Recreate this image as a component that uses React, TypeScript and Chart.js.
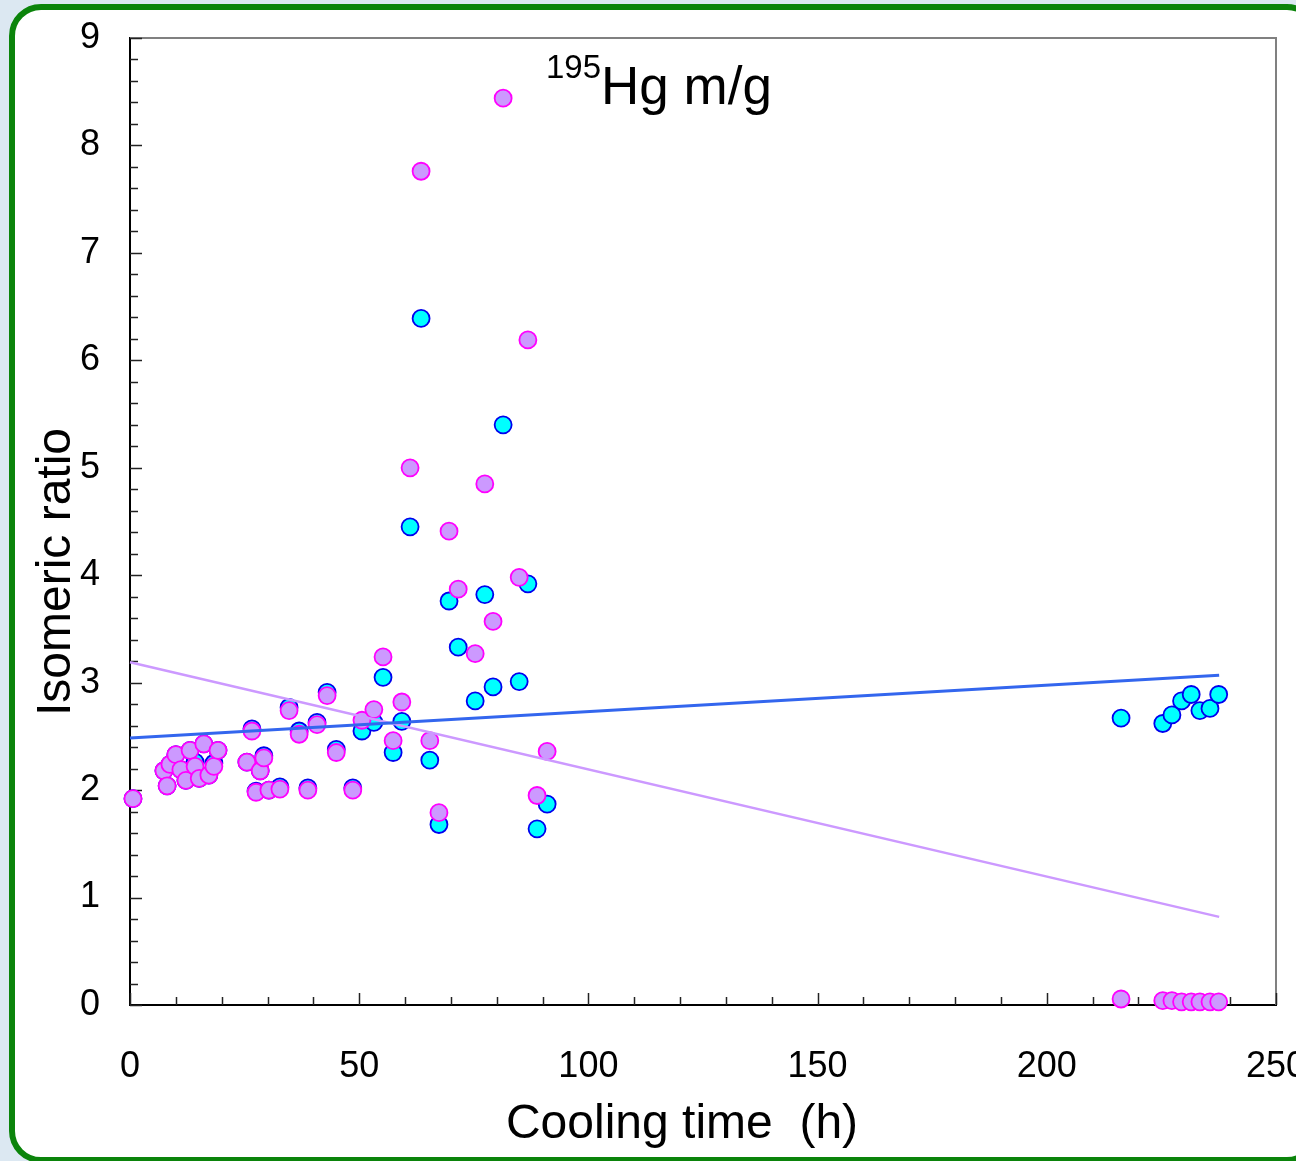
import React, { useEffect, useRef } from "react";
import { Chart, registerables } from "chart.js";

Chart.register(...registerables);

// Cooling time (h) shared by both series
const coolingTime = [
  0.65, 7.4, 8.1, 8.7, 10.0, 11.1, 12.2, 13.1, 14.2, 15.1, 16.1, 17.2, 18.3, 19.2,
  25.5, 26.6, 27.5, 28.4, 29.2, 30.3, 32.7, 34.7, 36.9, 38.8, 40.8, 43.0, 45.0, 48.6, 50.6, 53.2, 55.2, 57.4, 59.3,
  61.1, 63.5, 65.4, 67.4, 69.6, 71.6, 75.3, 77.4, 79.2, 81.4, 84.9, 86.8, 88.8, 91.0,
  216.2, 225.3, 227.3, 229.4, 231.5, 233.4, 235.6, 237.5,
];

// cyan series
const ratioCyan = [
  1.92, 2.18, 2.04, 2.24, 2.33, 2.19, 2.09, 2.37, 2.26, 2.11, 2.43, 2.14, 2.25, 2.37,
  2.26, 2.57, 1.99, 2.18, 2.32, 2.0, 2.03, 2.77, 2.55, 2.02, 2.63, 2.91, 2.38, 2.02, 2.55, 2.63, 3.05, 2.35, 2.64,
  4.45, 6.39, 2.28, 1.68, 3.76, 3.33, 2.83, 3.82, 2.96, 5.4, 3.01, 3.92, 1.64, 1.87,
  2.67, 2.62, 2.7, 2.83, 2.89, 2.74, 2.76, 2.89,
];

// violet series
const ratioViolet = [
  1.92, 2.18, 2.04, 2.24, 2.33, 2.19, 2.09, 2.37, 2.22, 2.11, 2.43, 2.14, 2.22, 2.37,
  2.26, 2.55, 1.98, 2.18, 2.3, 2.0, 2.01, 2.74, 2.52, 2.0, 2.61, 2.88, 2.35, 2.0, 2.65, 2.75, 3.24, 2.46, 2.82,
  5.0, 7.76, 2.46, 1.79, 4.41, 3.87, 3.27, 4.85, 3.57, 8.44, 3.98, 6.19, 1.95, 2.36,
  0.056, 0.04, 0.04, 0.03, 0.03, 0.03, 0.03, 0.03,
];

// linear trend lines
const trendX = [0, 237.6];
const trendCyan = [2.485, 3.07];
const trendViolet = [3.19, 0.82];

const X_MIN = 0, X_MAX = 250, X_STEP = 50, X_MINOR = 10;
const Y_MIN = 0, Y_MAX = 9, Y_STEP = 1, Y_MINOR = 0.2;

const FONT = 'Arial, "Liberation Sans", sans-serif';

const toPts = (xs: number[], ys: number[]) => xs.map((x, i) => ({ x, y: ys[i] }));

const decor = {
  id: "decor",
  beforeDatasetsDraw(chart: any) {
    const { ctx, chartArea: a, scales } = chart;
    ctx.save();
    ctx.strokeStyle = "#808080";
    ctx.lineWidth = 2;
    ctx.beginPath();
    ctx.moveTo(a.left, a.top);
    ctx.lineTo(a.right, a.top);
    ctx.lineTo(a.right, a.bottom);
    ctx.stroke();

    ctx.strokeStyle = "#222";
    ctx.lineWidth = 1.5;
    const ny = Math.round((Y_MAX - Y_MIN) / Y_MINOR);
    for (let i = 0; i <= ny; i++) {
      const v = Y_MIN + i * Y_MINOR;
      const major = i % Math.round(Y_STEP / Y_MINOR) === 0;
      const y = Math.round(scales.y.getPixelForValue(v)) + 0.5;
      ctx.beginPath();
      ctx.moveTo(a.left, y);
      ctx.lineTo(a.left + (major ? 12 : 8), y);
      ctx.stroke();
    }
    const nx = Math.round((X_MAX - X_MIN) / X_MINOR);
    for (let i = 0; i <= nx; i++) {
      const v = X_MIN + i * X_MINOR;
      const major = i % Math.round(X_STEP / X_MINOR) === 0;
      const x = Math.round(scales.x.getPixelForValue(v)) + 0.5;
      ctx.beginPath();
      ctx.moveTo(x, a.bottom);
      ctx.lineTo(x, a.bottom - (major ? 12 : 8));
      ctx.stroke();
    }
    ctx.restore();
  },
  afterDraw(chart: any) {
    const { ctx } = chart;
    ctx.save();
    ctx.fillStyle = "#000";
    // y axis title
    ctx.translate(70, 572);
    ctx.rotate(-Math.PI / 2);
    ctx.font = `48px ${FONT}`;
    ctx.textAlign = "center";
    ctx.textBaseline = "alphabetic";
    ctx.fillText("Isomeric ratio", 0, 0);
    ctx.setTransform(1, 0, 0, 1, 0, 0);
    // x axis title
    ctx.font = `48px ${FONT}`;
    ctx.textAlign = "center";
    ctx.fillText("Cooling time  (h)", 682, 1138);
    // plot label
    ctx.textAlign = "left";
    ctx.font = `33px ${FONT}`;
    ctx.fillText("195", 546, 78);
    const w = ctx.measureText("195").width;
    ctx.font = `53px ${FONT}`;
    ctx.fillText("Hg m/g", 546 + w, 104);
    ctx.restore();
  },
};

export default function App() {
  const ref = useRef<HTMLCanvasElement>(null);

  useEffect(() => {
    if (!ref.current) return;
    const chart = new Chart(ref.current, {
      type: "scatter",
      data: {
        datasets: [
          {
            label: "trend cyan",
            data: toPts(trendX, trendCyan),
            showLine: true,
            borderColor: "#3366ee",
            borderWidth: 3,
            pointRadius: 0,
            order: 0,
            clip: false,
          } as any,
          {
            label: "trend violet",
            data: toPts(trendX, trendViolet),
            showLine: true,
            borderColor: "#cc99ff",
            borderWidth: 2.5,
            pointRadius: 0,
            order: 0,
            clip: false,
          } as any,
          {
            label: "violet",
            data: toPts(coolingTime, ratioViolet),
            backgroundColor: "#cc99ff",
            borderColor: "#ff00ff",
            borderWidth: 1.8,
            pointRadius: 8.5,
            order: 1,
            clip: false,
          } as any,
          {
            label: "cyan",
            data: toPts(coolingTime, ratioCyan),
            backgroundColor: "#00ffff",
            borderColor: "#0000ee",
            borderWidth: 1.8,
            pointRadius: 8.5,
            order: 2,
            clip: false,
          } as any,
        ],
      },
      options: {
        animation: false,
        responsive: false,
        devicePixelRatio: 1,
        layout: { padding: { top: 38, right: 20, left: 0, bottom: 0 } },
        plugins: { legend: { display: false }, tooltip: { enabled: false } },
        scales: {
          x: {
            type: "linear",
            min: X_MIN,
            max: X_MAX,
            grid: { display: false, drawTicks: false },
            border: { display: true, color: "#000", width: 2 },
            ticks: {
              stepSize: X_STEP,
              autoSkip: false,
              maxRotation: 0,
              padding: 40,
              color: "#000",
              font: { family: FONT, size: 36 },
            },
            afterFit: (s: any) => {
              s.height = 156;
              s.paddingLeft = 0;
              s.paddingRight = 0;
            },
          },
          y: {
            type: "linear",
            min: Y_MIN,
            max: Y_MAX,
            grid: { display: false, drawTicks: false },
            border: { display: true, color: "#000", width: 2 },
            ticks: {
              stepSize: Y_STEP,
              autoSkip: false,
              padding: 30,
              color: "#000",
              font: { family: FONT, size: 36 },
            },
            afterFit: (s: any) => {
              s.width = 130;
              s.paddingTop = 0;
              s.paddingBottom = 0;
            },
          },
        },
      } as any,
      plugins: [decor],
    });
    return () => chart.destroy();
  }, []);

  return (
    <div
      style={{
        position: "absolute",
        left: 0,
        top: 0,
        width: 1296,
        height: 1161,
        overflow: "hidden",
        background: "#dce8f2",
      }}
    >
      <div
        style={{
          position: "absolute",
          left: 9,
          top: 4,
          width: 1310,
          height: 1159,
          boxSizing: "border-box",
          border: "6px solid #0b840b",
          borderRadius: 32,
          background: "#fff",
        }}
      />
      <canvas
        ref={ref}
        width={1296}
        height={1161}
        style={{ position: "absolute", left: 0, top: 0, display: "block" }}
      />
    </div>
  );
}
